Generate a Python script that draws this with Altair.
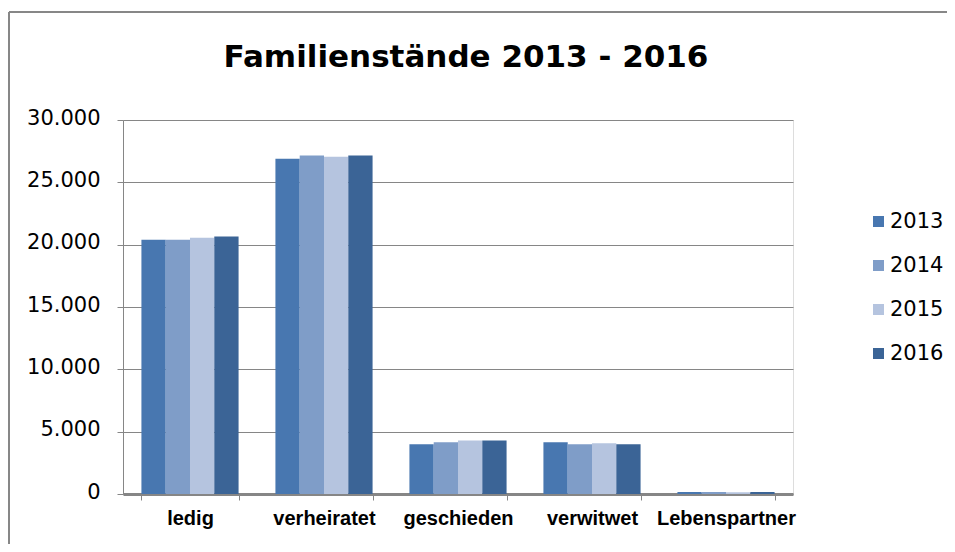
import altair as alt
import pandas as pd

categories = ["ledig", "verheiratet", "geschieden", "verwitwet", "Lebenspartner"]
years = ["2013", "2014", "2015", "2016"]
v2013 = [20400, 26900, 4000, 4150, 160]
v2014 = [20400, 27150, 4150, 4000, 160]
v2015 = [20550, 27050, 4300, 4080, 140]
v2016 = [20650, 27150, 4300, 4000, 160]
colors = ["#4877B0", "#7F9DC8", "#B5C4DF", "#3B6496"]
title_text = "Familienstände 2013 - 2016"

rows = []
for y, vals in zip(years, [v2013, v2014, v2015, v2016]):
    for c, v in zip(categories, vals):
        rows.append({"Kategorie": c, "Jahr": y, "Wert": v})
df = pd.DataFrame(rows)

W, H = 670, 374
NUMFONT = "DejaVu Sans"
LABFONT = "Liberation Sans"

bars = alt.Chart(df).mark_bar().encode(
    x=alt.X("Kategorie:N", sort=categories,
            scale=alt.Scale(paddingInner=0.275, paddingOuter=0.1375),
            axis=alt.Axis(title=None, labelAngle=0, labelFont=LABFONT, labelFontSize=20,
                          labelFontWeight="bold", labelColor="#000000", labelPadding=8,
                          tickBand="extent", tickColor="#868686", tickSize=6, tickWidth=1,
                          domainColor="#868686", domainWidth=3, grid=False)),
    xOffset=alt.XOffset("Jahr:N", sort=years, scale=alt.Scale(paddingInner=0, paddingOuter=0)),
    y=alt.Y("Wert:Q", scale=alt.Scale(domain=[0, 30000], nice=False),
            axis=alt.Axis(title=None, values=[0, 5000, 10000, 15000, 20000, 25000, 30000],
                          labelExpr="replace(format(datum.value, ',d'), ',', '.')",
                          labelFont=NUMFONT, labelFontSize=21, labelColor="#000000",
                          labelPadding=17, labelOffset=-2, tickColor="#868686", tickSize=6,
                          domainColor="#868686", domainWidth=1,
                          grid=True, gridColor="#868686", gridWidth=1.2)),
    color=alt.Color("Jahr:N", sort=years,
                    scale=alt.Scale(domain=years, range=colors),
                    legend=alt.Legend(title=None, orient="none", legendX=745, legendY=91,
                                      symbolType="square", symbolSize=121,
                                      symbolStrokeWidth=0, labelFont=NUMFONT,
                                      labelFontSize=21, labelColor="#000000",
                                      labelOffset=1, rowPadding=22, padding=0)),
)

title = alt.Chart(pd.DataFrame({"t": [title_text]})).mark_text(
    font=NUMFONT, fontSize=31, fontWeight="bold", color="#000000",
    align="center", baseline="alphabetic"
).encode(text="t:N", x=alt.value(343), y=alt.value(-53))

border = alt.Chart(pd.DataFrame({"a": [0]})).mark_rule(color="#878787", strokeWidth=2).encode(
    x=alt.value(-114), y=alt.value(-108), y2=alt.value(H + 60)
)
border_top = alt.Chart(pd.DataFrame({"a": [0]})).mark_rule(color="#878787", strokeWidth=2).encode(
    x=alt.value(-114), x2=alt.value(W + 154), y=alt.value(-108)
)

chart = alt.layer(bars, title, border, border_top).properties(
    width=W, height=H,
    autosize=alt.AutoSizeParams(type="none"),
    padding={"left": 115, "top": 112, "right": 154, "bottom": 50},
).configure_view(stroke=None).configure(background="#ffffff")

chart.save("out.html", embed_options={"renderer": "svg", "actions": False})
